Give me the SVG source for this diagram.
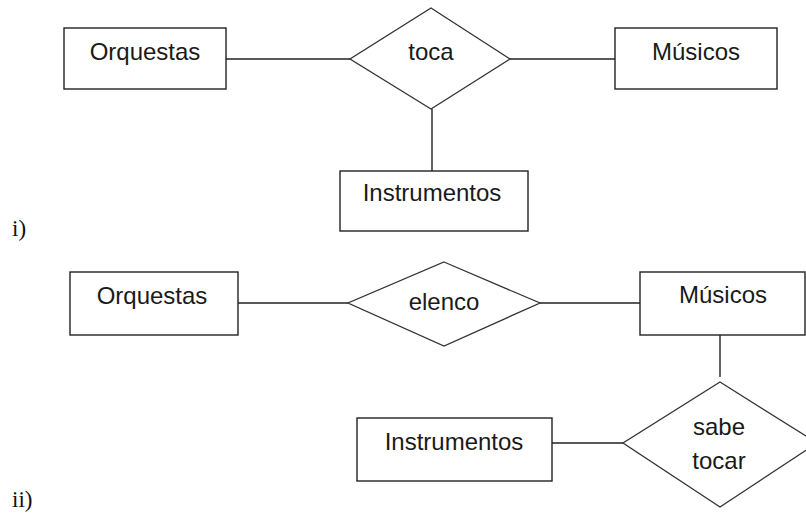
<svg xmlns="http://www.w3.org/2000/svg" width="806" height="513" viewBox="0 0 806 513">
<style>
.ent{fill:#fff;stroke:#222;stroke-width:1.4}
.rel{fill:#fff;stroke:#333;stroke-width:1.3}
.ln{stroke:#222;stroke-width:1.4;fill:none}
.t{font-family:"Liberation Sans",Arial,sans-serif;font-size:24px;fill:#1a1a1a;text-anchor:middle}
.lab{font-family:"Liberation Serif","Times New Roman",serif;font-size:23px;fill:#111}
</style>
<rect width="806" height="513" fill="#fff"/>
<g id="connectors">
<line class="ln" x1="226" y1="59" x2="350" y2="59"/>
<line class="ln" x1="510" y1="59" x2="615" y2="59"/>
<line class="ln" x1="432" y1="109" x2="432" y2="171"/>
<line class="ln" x1="238" y1="303" x2="348" y2="303"/>
<line class="ln" x1="540" y1="303" x2="640" y2="303"/>
<line class="ln" x1="720" y1="335" x2="720" y2="377"/>
<line class="ln" x1="552" y1="443" x2="623" y2="443"/>
</g>
<g id="orquestas1"><rect class="ent" x="64" y="28" width="162" height="61"/><text class="t" x="145" y="60">Orquestas</text></g>
<g id="toca"><polygon class="rel" points="431,8 510,59 431,109 350,59"/><text class="t" x="431" y="60">toca</text></g>
<g id="musicos1"><rect class="ent" x="615" y="28" width="162" height="61"/><text class="t" x="696" y="60">Músicos</text></g>
<g id="instrumentos1"><rect class="ent" x="340" y="171" width="188" height="60"/><text class="t" x="432" y="201">Instrumentos</text></g>
<g id="label1"><text class="lab" x="12" y="236">i)</text></g>
<g id="orquestas2"><rect class="ent" x="70" y="272" width="168" height="63"/><text class="t" x="152" y="304">Orquestas</text></g>
<g id="elenco"><polygon class="rel" points="444,262 540,303 444,346 348,303"/><text class="t" x="444" y="310">elenco</text></g>
<g id="musicos2"><rect class="ent" x="640" y="272" width="165" height="63"/><text class="t" x="723" y="303">Músicos</text></g>
<g id="instrumentos2"><rect class="ent" x="357" y="418" width="195" height="63"/><text class="t" x="454" y="450">Instrumentos</text></g>
<g id="sabetocar"><polygon class="rel" points="720,382 817,443 720,507 623,443"/><text class="t" x="719" y="435">sabe</text><text class="t" x="719" y="469">tocar</text></g>
<g id="label2"><text class="lab" x="12" y="507">ii)</text></g>
</svg>
